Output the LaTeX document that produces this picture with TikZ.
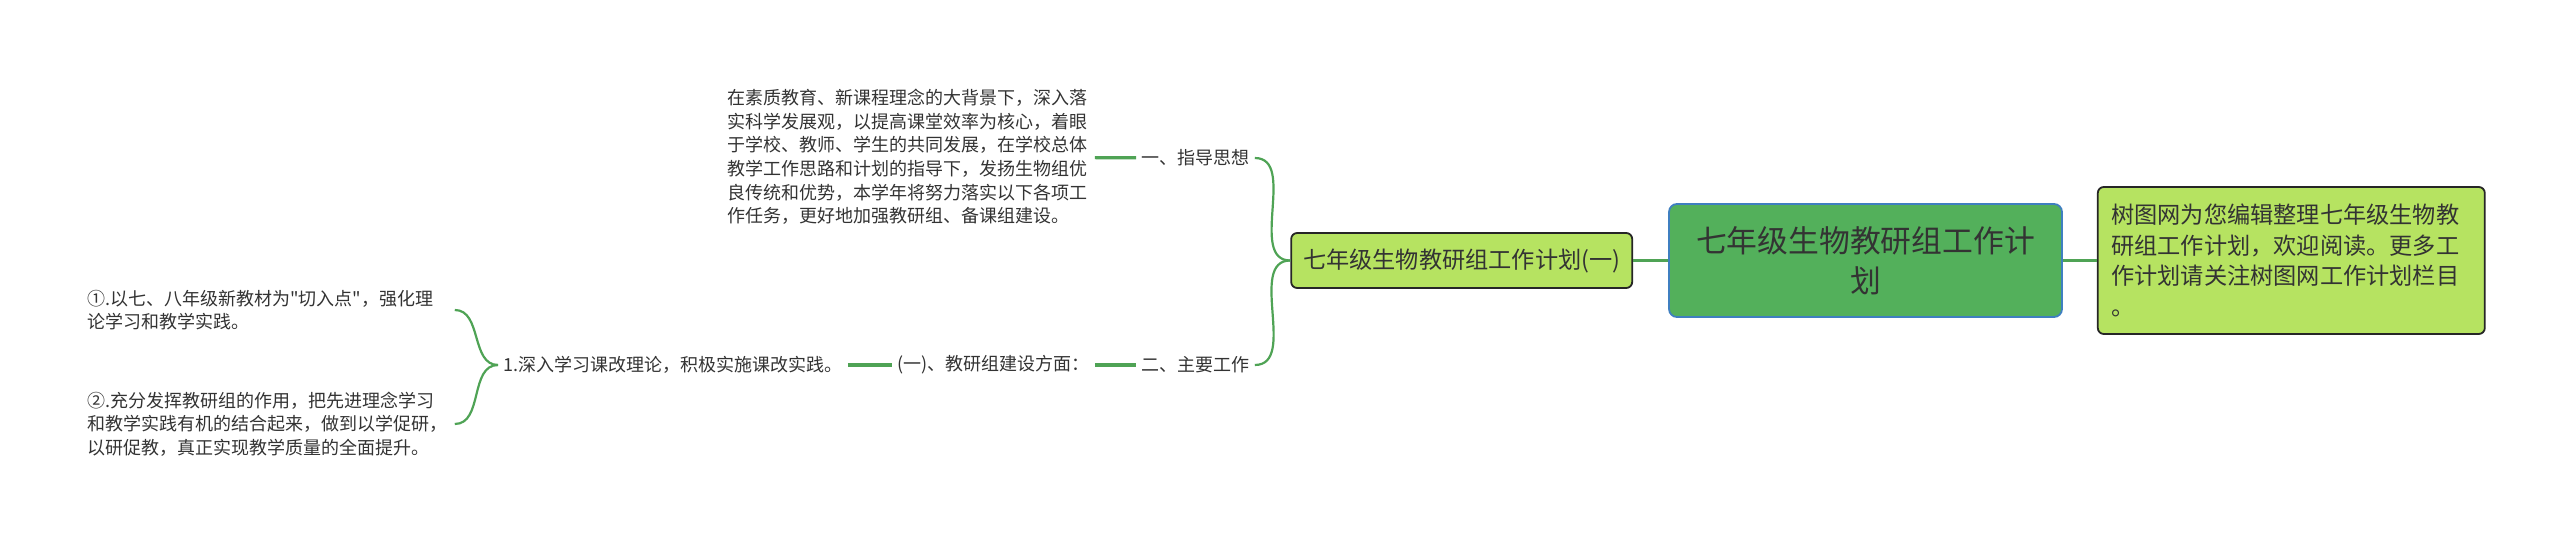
\documentclass[tikz,border=0pt]{standalone}
\usepackage{fontspec}
\setmainfont{Noto Sans CJK SC}[Ligatures=TeXOff]
\usepackage{xcolor}
\usetikzlibrary{positioning}

\definecolor{rootgreen}{HTML}{53B05B}
\definecolor{rootline}{HTML}{3F7FC0}
\definecolor{leafgreen}{HTML}{B6E361}
\definecolor{linkgreen}{HTML}{4FA355}
\definecolor{inkgray}{HTML}{333333}

\begin{document}
\begin{tikzpicture}[x=0.5pt, y=-0.5pt,
    rootbox/.style={draw=rootline, line width=0.9pt, fill=rootgreen, rounded corners=4pt,
      minimum width=196.5pt, minimum height=56.5pt, align=center, text=inkgray,
      font=\fontsize{15.4pt}{20pt}\selectfont},
    subbox/.style={draw=black!85, line width=0.9pt, fill=leafgreen, rounded corners=3pt,
      text=inkgray, font=\fontsize{11.6pt}{15.25pt}\selectfont},
    leaf/.style={anchor=west, inner xsep=2.5pt, inner ysep=2pt, align=left, text=inkgray,
      font=\fontsize{9pt}{11.8pt}\selectfont},
    branch/.style={draw=linkgreen, line width=1.6pt},
    twig/.style={draw=linkgreen, line width=1.1pt, out=180, in=0}]
  \useasboundingbox (0,0) rectangle (2560,545);

  \node[rootbox] (root) at (1865.5,260.5) {七年级生物教研组工作计\\划};
  \node[subbox, minimum width=193.5pt, minimum height=73.5pt, text width=180pt, align=left]
    (info) [right=17pt of root]
    {树图网为您编辑整理七年级生物教\\研组工作计划，欢迎阅读。更多工\\作计划请关注树图网工作计划栏目\\。};
  \node[subbox, minimum width=170.5pt, minimum height=27.5pt] (plan) [left=17.5pt of root]
    {七年级生物教研组工作计划(一)};

  % 一、指导思想
  \node[leaf] (guide) at (1136,158) {一、指导思想};
  \node[leaf, text width=181pt] (idea) at (722,157)
    {在素质教育、新课程理念的大背景下，深入落\\实科学发展观，以提高课堂效率为核心，着眼\\于学校、教师、学生的共同发展，在学校总体\\教学工作思路和计划的指导下，发扬生物组优\\良传统和优势，本学年将努力落实以下各项工\\作任务，更好地加强教研组、备课组建设。};

  % 二、主要工作
  \node[leaf] (work) at (1136,365) {二、主要工作};
  \node[leaf] (team) at (892,365) {(一)、教研组建设方面：};
  \node[leaf] (deep) at (498,365) {1.深入学习课改理论，积极实施课改实践。};
  \node[leaf, text width=181pt] (item1) at (82,310)
    {①.以七、八年级新教材为"切入点"，强化理\\论学习和教学实践。};
  \node[leaf, text width=181pt] (item2) at (82,424)
    {②.充分发挥教研组的作用，把先进理念学习\\和教学实践有机的结合起来，做到以学促研，\\以研促教，真正实现教学质量的全面提升。};

  \path[branch]
    (plan) edge (root)
    (root) edge (info)
    (idea) edge (guide)
    (deep) edge (team)
    (team) edge (work);
  \path
    (plan.west) edge[twig] (guide.east)
    (plan.west) edge[twig] (work.east)
    (deep.west) edge[twig] (item1.east)
    (deep.west) edge[twig] (item2.east);
\end{tikzpicture}
\end{document}
